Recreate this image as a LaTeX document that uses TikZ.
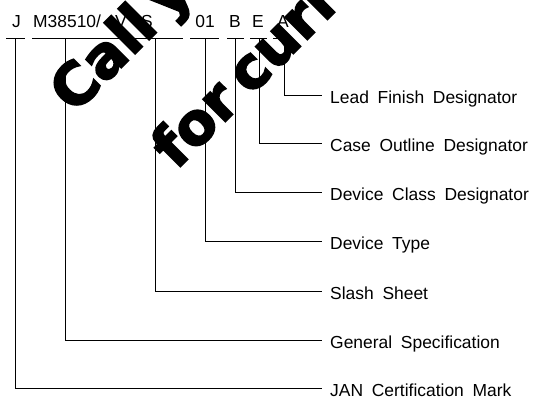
\documentclass[tikz,border=0pt]{standalone}
\usepackage{fontspec}
\setmainfont{Liberation Sans}[WordSpace=1.8]
\newfontfamily\wmfont{DejaVu Sans}[WordSpace=0.6, BoldFeatures={FakeBold=3}]
\usetikzlibrary{calc}
\tikzset{
  lbl/.style={anchor=base west, inner sep=0pt, font=\fontsize{17.5}{17.5}\selectfont},
  topch/.style={anchor=base, inner sep=0pt, font=\fontsize{17.5}{17.5}\selectfont},
  ln/.style={line width=0.9bp, draw=black},
  wm/.style={anchor=base west, inner sep=0pt, rotate=45, text=black,
    font=\wmfont\bfseries\fontsize{58}{58}\selectfont},
}
\begin{document}
\begin{tikzpicture}[x=1bp, y=-1bp]
\useasboundingbox (0,0) rectangle (534,398);
% top row
\node[topch] (tJ) at (16.5,27) {J};
\node[topch, anchor=base west] (tM) at (33,27) {M38510/};
\node[topch] (tV) at (121,27) {V};
\node[topch] (tS) at (147,27) {S};
\node[topch] (t01) at (205,27) {01};
\node[topch] (tB) at (235,27) {B};
\node[topch] (tE) at (258,27) {E};
\node[topch] (tA) at (283,27) {A};
% underline ends
\coordinate (uJa) at (6,38);   \coordinate (uJb) at (25,38);
\coordinate (uMa) at (32,38);  \coordinate (uMb) at (183,38);
\coordinate (u0a) at (190,38); \coordinate (u0b) at (219,38);
\coordinate (uBa) at (227,38); \coordinate (uBb) at (244,38);
\coordinate (uEa) at (250,38); \coordinate (uEb) at (267,38);
\coordinate (uAa) at (273,38); \coordinate (uAb) at (290,38);
\foreach \a/\b in {uJa/uJb,uMa/uMb,u0a/u0b,uBa/uBb,uEa/uEb,uAa/uAb}
  \draw[ln] (\a) -- (\b);
% stems
\coordinate (sJ) at (15.5,38);
\coordinate (sM) at (65,38);
\coordinate (sS) at (155,38);
\coordinate (s0) at (205,38);
\coordinate (sB) at (235,38);
\coordinate (sE) at (259,38);
\coordinate (sA) at (284,38);
% labels
\node[lbl] (lA) at (330,103.5) {Lead Finish Designator};
\node[lbl] (lE) at (330,151.5) {Case Outline Designator};
\node[lbl] (lB) at (330,200.5) {Device Class Designator};
\node[lbl] (l0) at (330,249.5) {Device Type};
\node[lbl] (lS) at (330,299.5) {Slash Sheet};
\node[lbl] (lM) at (330,348.5) {General Specification};
\node[lbl] (lJ) at (330,396.5) {JAN Certification Mark};
% connectors
\foreach \s/\l in {sA/lA,sE/lE,sB/lB,s0/l0,sS/lS,sM/lM,sJ/lJ}
  \draw[ln] (\s) |- ($(\l.base west)+(-8,-8.5)$);
% watermark
\begin{scope}
\clip (0,0) rectangle (534,398);
\node[wm] (wm1) at (74,115) {Call your};
\node[wm] (wm2) at (176,171) {for current};
\end{scope}
\end{tikzpicture}
\end{document}
